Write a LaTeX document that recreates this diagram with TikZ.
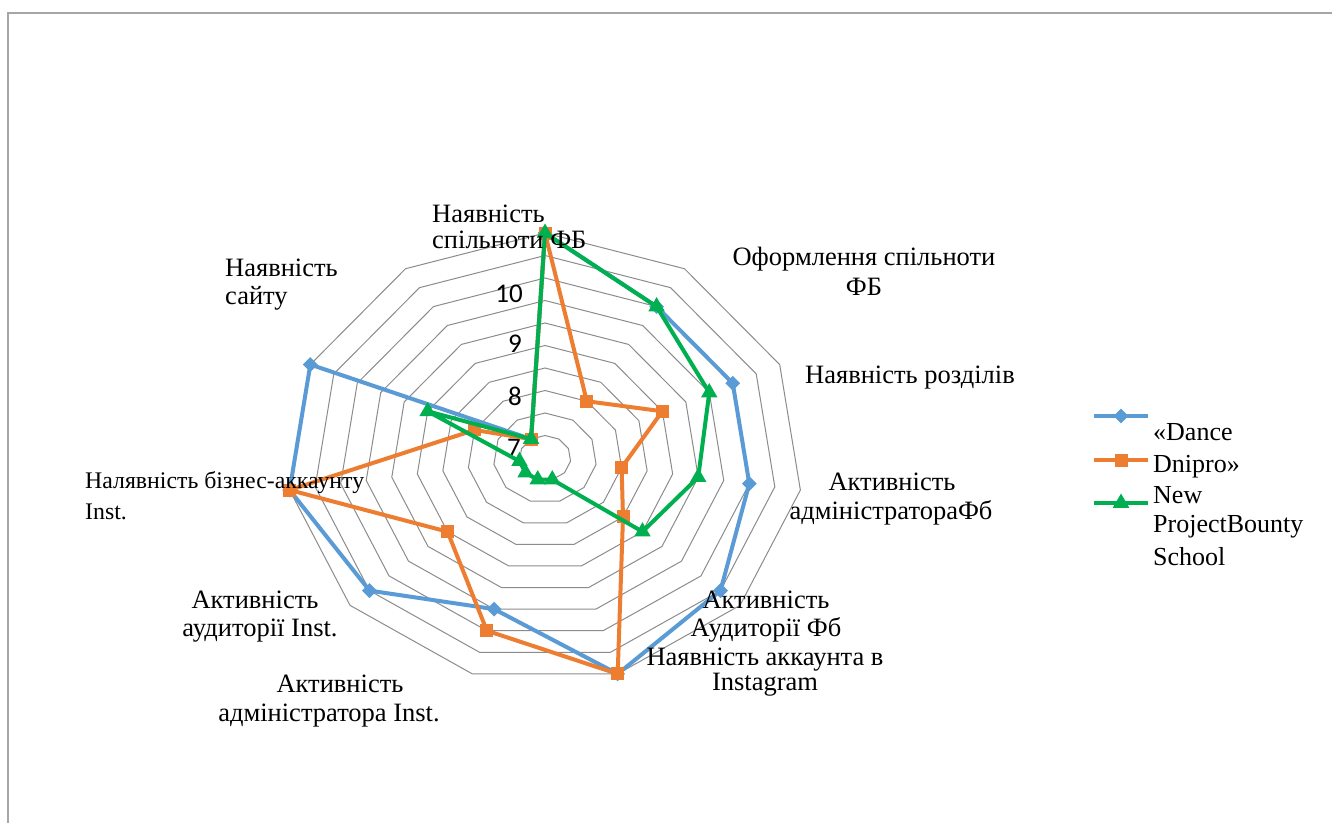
\documentclass[tikz,border=0pt]{standalone}
\usepackage{fontspec}
\setmainfont{Liberation Serif}
\newfontfamily\valfont{Carlito}
\usetikzlibrary{shapes.geometric}
\definecolor{sblue}{HTML}{5B9BD5}
\definecolor{sorange}{HTML}{ED7D31}
\definecolor{sgreen}{HTML}{00B050}
\definecolor{gridc}{HTML}{8C8C8C}
\definecolor{framec}{HTML}{A6A6A6}
\begin{document}
\begin{tikzpicture}[x=1pt,y=-1pt,
  gridline/.style={draw=gridc, line width=1pt},
  sline/.style={line width=4pt, line join=round},
  bmark/.style={diamond, fill=sblue, minimum size=15pt, inner sep=0pt},
  omark/.style={rectangle, fill=sorange, minimum size=13pt, inner sep=0pt},
  gmark/.style={regular polygon, regular polygon sides=3, fill=sgreen, minimum size=19pt, inner sep=0pt},
  lab/.style={inner sep=0pt, font=\fontsize{26.5}{30}\selectfont},
  smalllab/.style={inner sep=0pt, font=\fontsize{23.8}{27}\selectfont},
  leg/.style={inner sep=0pt, anchor=base west, font=\fontsize{26}{30}\selectfont},
  val/.style={inner sep=0pt, anchor=east, font=\valfont\fontsize{27}{30}\selectfont}]
\useasboundingbox (0,0) rectangle (1332,823);
\fill[white] (0,0) rectangle (1332,823);
\draw[framec, line width=1.5pt] (8,823) -- (8,13) -- (1332,13);
% grid rings
\foreach \r in {1,...,10}{
  \draw[gridline] ({545},{458-22.5*\r}) \foreach \k in {1,...,10}{ -- ({545+25.8*\r*sin(\k*360/11)},{458-22.5*\r*cos(\k*360/11)}) } -- cycle;
}
% value labels
\node[val] (v10) at (523,293.5) {10};
\node[val] (v9) at (522,343.5) {9};
\node[val] (v8) at (522,396) {8};
\node[val] (v7) at (521,447.5) {7};
% data points
\foreach \f [count=\k from 0] in {1.0,0.8,0.8,0.8,0.9,1.0,0.7,0.9,1.0,1.0,0.1}{\coordinate (b\k) at ({545+258*\f*sin(\k*360/11)},{458-225*\f*cos(\k*360/11)});}
\foreach \f [count=\k from 0] in {1.0,0.3,0.5,0.3,0.4,1.0,0.8,0.5,1.0,0.3,0.1}{\coordinate (o\k) at ({545+258*\f*sin(\k*360/11)},{458-225*\f*cos(\k*360/11)});}
\foreach \f [count=\k from 0] in {1.0,0.8,0.7,0.6,0.5,0.1,0.1,0.1,0.1,0.5,0.1}{\coordinate (g\k) at ({545+258*\f*sin(\k*360/11)},{458-225*\f*cos(\k*360/11)});}
% blue series
\draw[sline, sblue] (b0) -- (b1) -- (b2) -- (b3) -- (b4) -- (b5) -- (b6) -- (b7) -- (b8) -- (b9) -- (b10) -- cycle;
\foreach \k in {0,...,10}{\node[bmark] (bm\k) at (b\k) {};}
% orange series
\draw[sline, sorange] (o0) -- (o1) -- (o2) -- (o3) -- (o4) -- (o5) -- (o6) -- (o7) -- (o8) -- (o9) -- (o10) -- cycle;
\foreach \k in {0,...,10}{\node[omark] (om\k) at (o\k) {};}
% green series
\draw[sline, sgreen] (g0) -- (g1) -- (g2) -- (g3) -- (g4) -- (g5) -- (g6) -- (g7) -- (g8) -- (g9) -- (g10) -- cycle;
\foreach \k in {0,...,10}{\node[gmark] (gm\k) at (g\k) {};}
% category labels
\node[lab, anchor=base west] (c0a) at (432,222) {Наявність};
\node[lab, anchor=base west] (c0b) at (432,248) {спільноти ФБ};
\node[lab, anchor=base] (c1a) at (864,265) {Оформлення спільноти};
\node[lab, anchor=base] (c1b) at (864,295) {ФБ};
\node[lab, anchor=base] (c2a) at (910,383) {Наявність розділів};
\node[lab, anchor=base] (c3a) at (892,490) {Активність};
\node[lab, anchor=base] (c3b) at (891,519) {адміністратораФб};
\node[lab, anchor=base] (c4a) at (766,608) {Активність};
\node[lab, anchor=base] (c4b) at (766,636) {Аудиторії Фб};
\node[lab, anchor=base] (c5a) at (765,665) {Наявність аккаунта в};
\node[lab, anchor=base] (c5b) at (765,690) {Instagram};
\node[lab, anchor=base] (c6a) at (340,692) {Активність};
\node[lab, anchor=base] (c6b) at (329,721) {адміністратора Inst.};
\node[lab, anchor=base] (c7a) at (255,608) {Активність};
\node[lab, anchor=base] (c7b) at (260,636) {аудиторії Inst.};
\node[smalllab, anchor=base west] (c8a) at (85,488) {Налявність бізнес-аккаунту};
\node[smalllab, anchor=base west] (c8b) at (85,519) {Inst.};
\node[lab, anchor=base west] (c9a) at (225,276) {Наявність};
\node[lab, anchor=base west] (c9b) at (225,304) {сайту};
% legend
\coordinate (lb1) at (1094,416); \coordinate (lb2) at (1148,416);
\coordinate (lo1) at (1094,460); \coordinate (lo2) at (1148,460);
\coordinate (lg1) at (1094,503); \coordinate (lg2) at (1148,503);
\draw[sline, sblue] (lb1) -- (lb2);
\node[bmark] (lbm) at (1121,416) {};
\draw[sline, sorange] (lo1) -- (lo2);
\node[omark] (lom) at (1121,460) {};
\draw[sline, sgreen] (lg1) -- (lg2);
\node[gmark] (lgm) at (1121,503) {};
\node[leg] (t1) at (1153,440) {«Dance};
\node[leg] (t2) at (1153,472) {Dnipro»};
\node[leg] (t3) at (1153,503) {New};
\node[leg] (t4) at (1153,532) {ProjectBounty};
\node[leg] (t5) at (1153,565) {School};
\end{tikzpicture}
\end{document}
